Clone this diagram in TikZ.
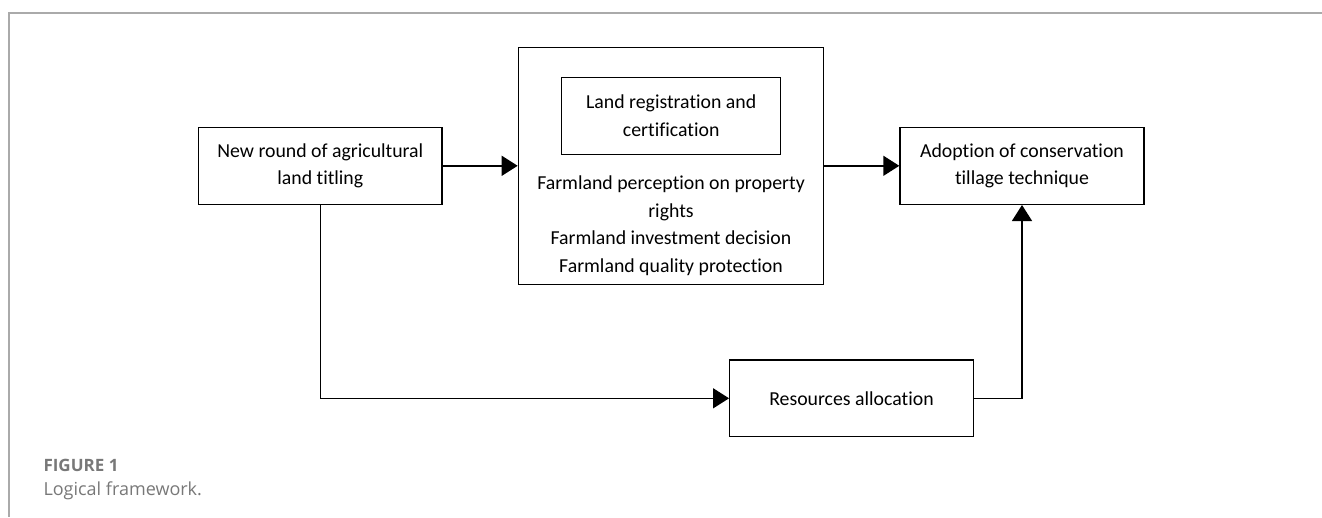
\documentclass[tikz,border=0pt]{standalone}
\usepackage{fontspec}
\setmainfont{Carlito}[Ligatures={NoCommon}]
\newfontfamily\capfont{Open Sans}
\usetikzlibrary{arrows.meta}
\definecolor{framegray}{RGB}{170,170,170}
\definecolor{capgray}{RGB}{120,120,120}
\tikzset{
  box/.style={draw=black, line width=1.4pt, fill=white, inner sep=0pt, align=center,
    font=\fontsize{19.8pt}{27.5pt}\selectfont},
  linetext/.style={inner sep=0pt, anchor=base, font=\fontsize{19.8pt}{27.5pt}\selectfont},
  conn/.style={draw=black, line width=1.4pt, -{Triangle[length=16pt,width=20pt]}},
  frameline/.style={draw=framegray, line width=1.2pt},
  captext/.style={inner sep=0pt, anchor=base west, text=capgray}
}
\begin{document}
\begin{tikzpicture}[x=1pt,y=-1pt]
\useasboundingbox (0,0) rectangle (1322,517);
% frame
\coordinate (fTR) at (1322,13);
\coordinate (fC) at (9,13);
\coordinate (fBL) at (9,517);
\draw[frameline] (fTR) -- (fC) -- (fBL);
% boxes
\node[box, minimum width=243.3pt, minimum height=77pt] (left) at (320.3,165.8) {New round of agricultural\\land titling};
\node[box, minimum width=305.3pt, minimum height=237pt] (mid) at (671,165.8) {};
\node[box, minimum width=219pt, minimum height=77pt] (inner) at (671.2,115.8) {Land registration and\\certification};
\node[linetext] (m1) at (671,189.5) {Farmland perception on property};
\node[linetext] (m2) at (671,217) {rights};
\node[linetext] (m3) at (671,244.5) {Farmland investment decision};
\node[linetext] (m4) at (671,272) {Farmland quality protection};
\node[box, minimum width=244pt, minimum height=77pt] (right) at (1022,165.8) {Adoption of conservation\\tillage technique};
\node[box, minimum width=243.5pt, minimum height=76.7pt] (res) at (851.5,398.3) {Resources allocation};
% connectors
\draw[conn] (left.east) -- (mid.west);
\draw[conn] (mid.east) -- (right.west);
\draw[conn] (left.south) |- (res.west);
\draw[conn] (res.east) -| (right.south);
% caption
\node[captext, font=\capfont\bfseries\fontsize{17pt}{19pt}\selectfont] (fig) at (43.3,471.5) {FIGURE 1};
\node[captext, font=\capfont\fontsize{18pt}{20pt}\selectfont] (cap) at (43.3,495) {Logical framework.};
\end{tikzpicture}
\end{document}
